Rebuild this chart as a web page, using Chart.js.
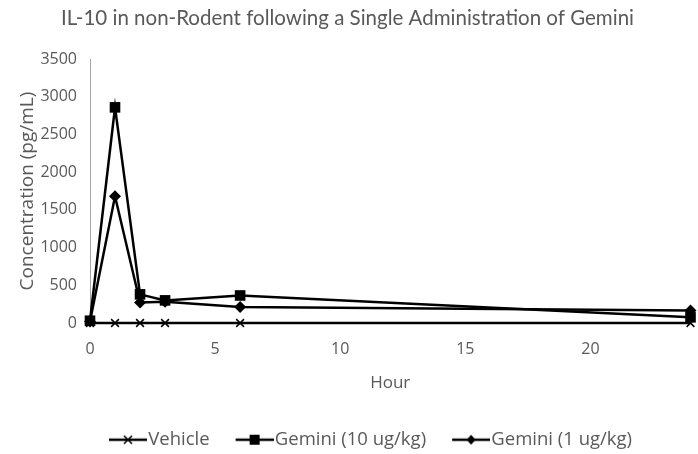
<!DOCTYPE html>
<html>
<head>
<meta charset="utf-8">
<script src="https://cdn.jsdelivr.net/npm/chart.js@4"></script>
<style>
  html, body { margin: 0; padding: 0; background: #fff; }
  #wrap { width: 698px; height: 454px; }
</style>
</head>
<body>
<div id="wrap"><canvas id="chart" width="698" height="454"></canvas></div>
<script>
// IL-10 time course
const hours = [0, 1, 2, 3, 6, 24];
const vehicle = [0, 0, 0, 0, 0, 0];
const gemini10 = [30, 2860, 380, 300, 365, 75];
const gemini1 = [20, 1680, 272, 282, 212, 165];
const xTicks = [0, 5, 10, 15, 20];

const GREY = "#595959";
const FONT = "'Open Sans', sans-serif";

function toPoints(values) {
	return hours.map((h, i) => ({ x: h, y: values[i] }));
}

// legend swatch: a short line with the series marker in the middle,
// offset to the right so the label sits close to the line
function legendIcon(marker) {
	const c = document.createElement("canvas");
	c.width = 64;
	c.height = 14;
	const g = c.getContext("2d");
	g.strokeStyle = "#000";
	g.fillStyle = "#000";
	g.lineWidth = 2.5;
	g.beginPath();
	g.moveTo(26, 7);
	g.lineTo(64, 7);
	g.stroke();
	const cx = 45, cy = 7;
	if (marker === "cross") {
		g.lineWidth = 1.5;
		g.beginPath();
		g.moveTo(cx - 4, cy - 4); g.lineTo(cx + 4, cy + 4);
		g.moveTo(cx + 4, cy - 4); g.lineTo(cx - 4, cy + 4);
		g.stroke();
	} else if (marker === "square") {
		g.fillRect(cx - 5, cy - 5, 10, 10);
	} else {
		g.beginPath();
		g.moveTo(cx, cy - 5); g.lineTo(cx + 4.5, cy);
		g.lineTo(cx, cy + 5); g.lineTo(cx - 4.5, cy);
		g.closePath();
		g.fill();
	}
	return c;
}

const legendShift = {
	id: "legendShift",
	afterLayout(chart) {
		const lg = chart.legend;
		if (lg) {
			lg.left += 14;
			lg.right += 14;
			lg.top += 5;
			lg.bottom += 5;
		}
	},
};

function series(label, values, style, radius, border, icon) {
	return {
		label,
		data: toPoints(values),
		borderColor: "#000",
		backgroundColor: "#000",
		borderWidth: 2.5,
		pointStyle: style,
		pointRadius: radius,
		pointBorderWidth: border,
		clip: false,
		legendIcon: legendIcon(icon),
	};
}

const data = {
	datasets: [
		series("Vehicle", vehicle, "crossRot", 5.5, 1.5, "cross"),
		series("Gemini (10 ug/kg)", gemini10, "rect", 7.5, 0, "square"),
		series("Gemini (1 ug/kg)", gemini1, "rectRot", 6, 0, "diamond"),
	],
};

const options = {
	responsive: false,
	animation: false,
	layout: {
		padding: { left: 0, right: 3, top: 0, bottom: 0 },
	},
	plugins: {
		title: {
			display: true,
			text: "IL-10 in non-Rodent following a Single Administration of Gemini",
			color: GREY,
			font: { family: "Lato, sans-serif", size: 20.5, weight: "normal" },
			padding: { top: 6, bottom: 28.5 },
		},
		legend: {
			position: "bottom",
			labels: {
				usePointStyle: true,
				pointStyleWidth: 48,
				boxHeight: 14,
				padding: 8,
				color: GREY,
				font: { family: FONT, size: 18.5 },
				generateLabels(chart) {
					return chart.data.datasets.map((ds, i) => ({
						text: ds.label,
						pointStyle: ds.legendIcon,
						fillStyle: "#000",
						strokeStyle: "#000",
						lineWidth: 0,
						fontColor: GREY,
						hidden: false,
						datasetIndex: i,
					}));
				},
			},
		},
		tooltip: { enabled: false },
	},
	scales: {
		x: {
			type: "linear",
			min: 0,
			max: 24,
			grid: { display: false, drawTicks: false },
			border: { display: false },
			afterBuildTicks(scale) {
				scale.ticks = xTicks.map((v) => ({ value: v }));
			},
			afterFit(scale) {
				scale.height = 94.5;
			},
			ticks: {
				color: GREY,
				padding: 17,
				font: { family: FONT, size: 16 },
			},
			title: {
				display: true,
				text: "Hour",
				color: GREY,
				font: { family: FONT, size: 17 },
				padding: { top: 0, bottom: 24 },
			},
		},
		y: {
			min: 0,
			max: 3500,
			grid: { display: false, drawTicks: false },
			border: { display: true, color: "#a6a6a6", width: 1 },
			afterFit(scale) {
				scale.width = 90;
			},
			ticks: {
				stepSize: 500,
				color: GREY,
				padding: 13,
				font: { family: FONT, size: 16 },
				callback: (v) => String(v),
			},
			title: {
				display: true,
				text: "Concentration (pg/mL)",
				color: GREY,
				font: { family: FONT, size: 19 },
				padding: { top: 16, bottom: 0 },
			},
		},
	},
};

const context = document.getElementById("chart").getContext("2d");
new Chart(context, {
	type: "line",
	data,
	options,
	plugins: [legendShift],
});
</script>
</body>
</html>
